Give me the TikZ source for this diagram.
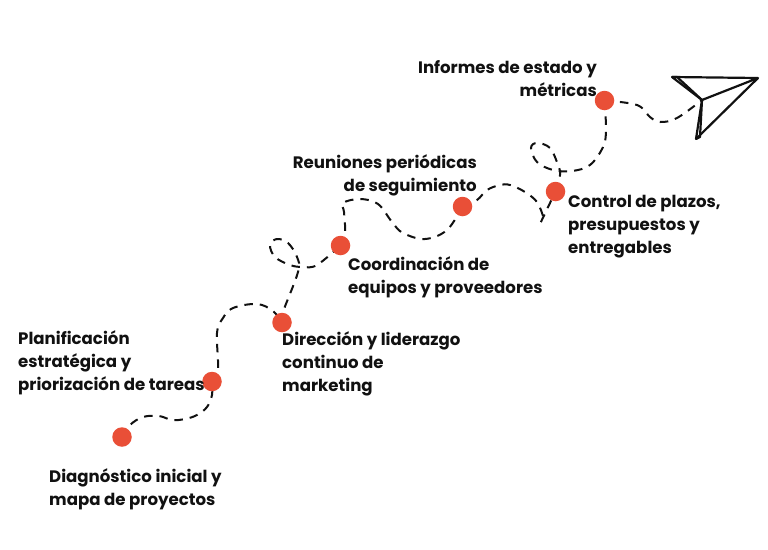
\documentclass[tikz,border=0pt]{standalone}
\usepackage{fontspec}
\setmainfont{Poppins}[UprightFont=* Bold]
\usetikzlibrary{backgrounds}
\definecolor{dotc}{HTML}{E94F37}
\definecolor{ink}{HTML}{111111}
\tikzset{
  dot/.style={circle,fill=dotc,minimum size=19.5pt,inner sep=0pt},
  lab/.style={font=\fontsize{16.6}{23}\selectfont,text=ink,inner sep=0pt,anchor=north west,align=left},
  labr/.style={lab,anchor=north east,align=right},
  trail/.style={line width=2pt,ink,dash pattern=on 8.5pt off 7pt},
  plane/.style={line width=2.2pt,ink,line join=round}
}
\begin{document}
\begin{tikzpicture}[x=1pt,y=-1pt]
\useasboundingbox (0,0) rectangle (768,549);
\node[dot] (a) at (122,437) {};
\node[dot] (b) at (212,381.5) {};
\node[dot] (c) at (282,322.5) {};
\node[dot] (d) at (340.5,245.5) {};
\node[dot] (e) at (462.5,206.5) {};
\node[dot] (f) at (555.5,191.5) {};
\node[dot] (g) at (604.5,100.5) {};
\coordinate (tip) at (702,100);
\coordinate (t2) at (539,226);
\begin{scope}[on background layer]
\draw[trail] plot[smooth,tension=0.6] coordinates {(a) (130,425) (143,417) (159,416) (172,420) (185,419) (197,415) (207,407) (212,395) (b)};
\draw[trail] plot[smooth,tension=0.6] coordinates {(b) (218,370) (217,333) (223,318) (233,308) (257,304) (273,311) (c)};
\draw[trail] plot[smooth,tension=0.6] coordinates {(c) (283,312) (298,272) (297,257) (288,243) (277,239) (270,245) (275,257) (290,265) (303,267) (317,265) (d)};
\draw[trail] plot[smooth,tension=0.6] coordinates {(d) (345,233) (344,212) (343,203) (360,199) (378,204) (392,222) (403,233) (425,239) (447,230) (e)};
\draw[trail] plot[smooth,tension=0.6] coordinates {(e) (477,200) (487,190) (500,185) (510,185) (525,192) (537,202) (543,216)};
\draw[trail] (f) -- (t2);
\draw[trail] plot[smooth,tension=0.6] coordinates {(f) (560,175) (558,165) (550,148) (537,143) (531,148) (537,162) (553,170) (572,171) (590,165) (603,147) (606,130) (g)};
\draw[trail] plot[smooth,tension=0.6] coordinates {(g) (637,105) (650,117) (660,122) (677,118) (tip)};
\end{scope}
\draw[plane] (672,77) -- (758,78) -- (tip) -- cycle;
\draw[plane] (672,77) -- (677,77) -- (tip);
\draw[plane] (tip) -- (696,139) -- (758,78);
\draw[plane] (tip) -- (700,137) -- (696,139);
\node[lab] (la) at (49,468) {Diagnóstico inicial y\\mapa de proyectos};
\node[lab] (lb) at (18,330) {Planificación\\estratégica y\\priorización de tareas};
\node[lab] (lc) at (282,331) {Dirección y liderazgo\\continuo de\\marketing};
\node[lab] (ld) at (348,256) {Coordinación de\\equipos y proveedores};
\node[labr] (le) at (477,154) {Reuniones periódicas\\de seguimiento};
\node[lab] (lf) at (568,195) {Control de plazos,\\presupuestos y\\entregables};
\node[labr] (lg) at (597,60) {Informes de estado y\\métricas};
\end{tikzpicture}
\end{document}
